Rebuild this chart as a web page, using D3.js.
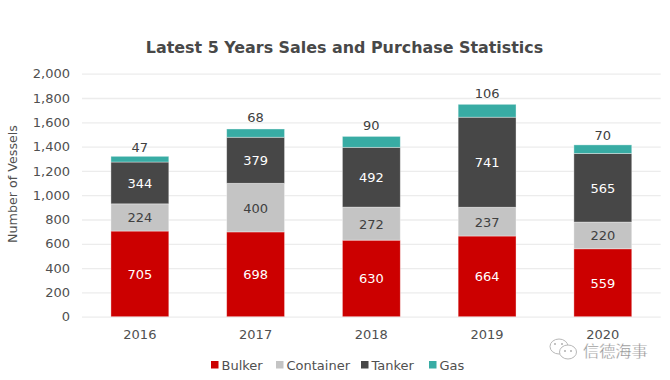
<!DOCTYPE html>
<html>
<head>
<meta charset="utf-8">
<script src="https://cdn.jsdelivr.net/npm/d3@7"></script>
<style>
    html, body { margin: 0; padding: 0; background: #fff; }
    text { font-family: "DejaVu Sans", sans-serif; }
</style>
</head>
<body>
<div id="container"></div>
<script>
const WIDTH = 670;
const HEIGHT = 380;
const MARGIN = {top: 73.7, right: 9.3, bottom: 63.3, left: 82};

const INNER_WIDTH = WIDTH - MARGIN.left - MARGIN.right;
const INNER_HEIGHT = HEIGHT - MARGIN.top - MARGIN.bottom;

const years = ["2016", "2017", "2018", "2019", "2020"];
const seriesNames = ["Bulker", "Container", "Tanker", "Gas"];
const bulker = [705, 698, 630, 664, 559];
const container = [224, 400, 272, 237, 220];
const tanker = [344, 379, 492, 741, 565];
const gas = [47, 68, 90, 106, 70];
const yTicks = [0, 200, 400, 600, 800, 1000, 1200, 1400, 1600, 1800, 2000];

const colors = ["#cc0000", "#c4c4c4", "#474747", "#38aca4"];
const labelColors = ["#ffffff", "#404040", "#ffffff", "#404040"];

var translate = function (x, y) {
    return "translate(" + x + "," + y + ")";
};

var svg = d3.select("#container")
    .append("svg")
    .attr("width", WIDTH)
    .attr("height", HEIGHT)
    .style("display", "block");

svg.append("text")
    .attr("x", 344.5)
    .attr("y", 53)
    .attr("text-anchor", "middle")
    .attr("font-size", 15.9)
    .attr("font-weight", "bold")
    .attr("fill", "#484848")
    .text("Latest 5 Years Sales and Purchase Statistics");

var xScale = d3.scaleBand().domain(years).range([0, INNER_WIDTH]).paddingInner(0.5).paddingOuter(0.25);
var yScale = d3.scaleLinear().domain([0, 2000]).range([INNER_HEIGHT, 0]);

var g = svg.append("g").attr("transform", translate(MARGIN.left, MARGIN.top));

// gridlines sit behind the bars
var yAxis = d3.axisLeft(yScale)
    .tickValues(yTicks)
    .tickFormat(d3.format(","))
    .tickSize(-INNER_WIDTH)
    .tickPadding(12);

var yG = g.append("g").call(yAxis);
yG.select(".domain").remove();
yG.selectAll("line").attr("stroke", "#ececec").attr("stroke-width", 1.3);
yG.selectAll("text").attr("font-size", 13).attr("fill", "#505050");

var xAxis = d3.axisBottom(xScale).tickSize(0).tickPadding(13);
var xG = g.append("g").attr("transform", translate(0, INNER_HEIGHT)).call(xAxis);
xG.select(".domain").remove();
xG.selectAll("text").attr("font-size", 13).attr("fill", "#505050");

var rows = years.map(function (y, i) {
    return {year: y, Bulker: bulker[i], Container: container[i], Tanker: tanker[i], Gas: gas[i]};
});
var stacked = d3.stack().keys(seriesNames)(rows);

var layers = g.selectAll(".layer").data(stacked)
    .enter()
    .append("g")
    .attr("class", "layer");

layers.selectAll("rect").data(function (s) { return s; })
    .enter()
    .append("rect")
    .attr("x", function (d) { return xScale(d.data.year); })
    .attr("y", function (d) { return yScale(d[1]); })
    .attr("width", xScale.bandwidth())
    .attr("height", function (d) { return yScale(d[0]) - yScale(d[1]); })
    .attr("fill", function (d) {
        return colors[seriesNames.indexOf(d3.select(this.parentNode).datum().key)];
    })
    .attr("stroke", "#ffffff")
    .attr("stroke-opacity", 0.45)
    .attr("stroke-width", 0.8);

// value labels: gas sits above the bar, the others are centred
var gasLift = [4.5, 7, 6, 6, 4.5];
layers.each(function (s, i) {
    d3.select(this).selectAll("text").data(s)
        .enter()
        .append("text")
        .attr("x", function (d) { return xScale(d.data.year) + xScale.bandwidth() / 2; })
        .attr("y", function (d, j) {
            if (s.key === "Gas") return yScale(d[1]) - gasLift[j];
            return yScale((d[0] + d[1]) / 2) + 5;
        })
        .attr("text-anchor", "middle")
        .attr("font-size", 13)
        .attr("fill", labelColors[i])
        .text(function (d) { return d[1] - d[0]; });
});

// legend
var legendX = [211, 276, 361, 429];
var legend = svg.selectAll(".legend").data(seriesNames)
    .enter()
    .append("g")
    .attr("class", "legend")
    .attr("transform", function (d, i) { return translate(legendX[i], 368.5); });

legend.append("rect")
    .attr("y", -7.5)
    .attr("width", 7.5)
    .attr("height", 7.5)
    .attr("fill", function (d, i) { return colors[i]; });

legend.append("text")
    .attr("x", 10.5)
    .attr("y", 1.5)
    .attr("font-size", 13)
    .attr("fill", "#505050")
    .text(function (d) { return d; });

// wechat watermark
var mark = svg.append("g");
mark.append("ellipse").attr("cx", 559).attr("cy", 346.5).attr("rx", 9).attr("ry", 7.5)
    .attr("fill", "#fff").attr("stroke", "#b8b8b8");
mark.append("ellipse").attr("cx", 568).attr("cy", 352).attr("rx", 8.5).attr("ry", 7)
    .attr("fill", "#fff").attr("stroke", "#b8b8b8");
mark.selectAll("circle").data([[555, 344], [562, 344], [565, 351], [571, 351]])
    .enter()
    .append("circle")
    .attr("cx", function (d) { return d[0]; })
    .attr("cy", function (d) { return d[1]; })
    .attr("r", 1)
    .attr("fill", "#b0b0b0");
mark.append("text")
    .attr("x", 583)
    .attr("y", 357)
    .attr("font-size", 16.2)
    .style("font-family", "'Noto Sans CJK SC', sans-serif")
    .attr("fill", "#8c8c8c")
    .attr("stroke", "#ffffff")
    .attr("stroke-width", 0.3)
    .text("信德海事");

// y axis title
svg.append("text")
    .attr("transform", translate(16.5, 184) + " rotate(-90)")
    .attr("text-anchor", "middle")
    .attr("font-size", 12.7)
    .attr("fill", "#505050")
    .text("Number of Vessels");
</script>
</body>
</html>
